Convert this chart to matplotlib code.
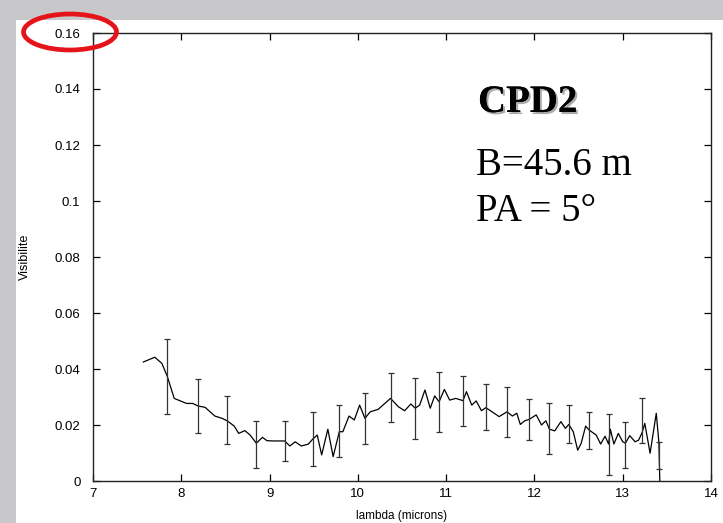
import matplotlib
matplotlib.use("Agg")
import matplotlib.pyplot as plt
import matplotlib.patches as mpatches
import matplotlib.patheffects as pe
from matplotlib.ticker import FuncFormatter

# ---- data ----
wave = [7.57, 7.70, 7.78, 7.84, 7.92, 8.06, 8.13, 8.19, 8.27, 8.38, 8.46, 8.52, 8.60,
        8.65, 8.72, 8.78, 8.85, 8.92, 8.97, 9.04, 9.17, 9.23, 9.29, 9.36, 9.44, 9.49,
        9.54, 9.59, 9.66, 9.72, 9.79, 9.83, 9.90, 9.96, 10.02, 10.08, 10.14, 10.23,
        10.37, 10.46, 10.53, 10.60, 10.65, 10.70, 10.76, 10.82, 10.87, 10.92, 10.98,
        11.04, 11.11, 11.19, 11.23, 11.29, 11.34, 11.40, 11.45, 11.52, 11.60, 11.69,
        11.75, 11.80, 11.84, 11.89, 11.94, 12.02, 12.08, 12.13, 12.17, 12.23, 12.30,
        12.35, 12.39, 12.44, 12.49, 12.53, 12.58, 12.62, 12.70, 12.75, 12.80, 12.84,
        12.86, 12.90, 12.95, 13.00, 13.03, 13.08, 13.14, 13.18, 13.22, 13.25, 13.31,
        13.38, 13.41, 13.42]
vis = [0.0425, 0.0442, 0.0420, 0.0375, 0.0295, 0.0277, 0.0277, 0.0268, 0.0263, 0.0232,
       0.0224, 0.0215, 0.0196, 0.0170, 0.0180, 0.0164, 0.0135, 0.0156, 0.0144, 0.0143,
       0.0143, 0.0125, 0.0140, 0.0125, 0.0132, 0.0150, 0.0164, 0.0093, 0.0185, 0.0087,
       0.0176, 0.0176, 0.0232, 0.0218, 0.0271, 0.0224, 0.0247, 0.0256, 0.0295, 0.0265,
       0.0251, 0.0275, 0.0260, 0.0271, 0.0325, 0.0260, 0.0304, 0.0283, 0.0327, 0.0289,
       0.0295, 0.0287, 0.0319, 0.0271, 0.0286, 0.0251, 0.0262, 0.0247, 0.0230, 0.0247,
       0.0232, 0.0242, 0.0202, 0.0215, 0.0220, 0.0236, 0.0200, 0.0215, 0.0185, 0.0179,
       0.0212, 0.0188, 0.0202, 0.0176, 0.0110, 0.0135, 0.0196, 0.0182, 0.0164, 0.0132,
       0.0160, 0.0132, 0.0185, 0.0132, 0.0170, 0.0140, 0.0135, 0.0162, 0.0140, 0.0146,
       0.0173, 0.0206, 0.0099, 0.0242, 0.0137, 0.0000]

err_x = [7.84, 8.19, 8.52, 8.85, 9.17, 9.49, 9.79, 10.08, 10.37, 10.65, 10.92,
         11.19, 11.45, 11.69, 11.94, 12.17, 12.39, 12.62, 12.84, 13.03, 13.22, 13.41]
err_y = [0.0372, 0.0268, 0.0217, 0.0131, 0.0143, 0.0150, 0.0178, 0.0223, 0.0298,
         0.0259, 0.0281, 0.0286, 0.0264, 0.0246, 0.0220, 0.0186, 0.0204, 0.0179,
         0.0130, 0.0130, 0.0216, 0.0090]
err_e = [0.0134, 0.0097, 0.0086, 0.0083, 0.0072, 0.0095, 0.0093, 0.0092, 0.0088,
         0.0110, 0.0107, 0.0088, 0.0082, 0.0088, 0.0074, 0.0091, 0.0067, 0.0066,
         0.0109, 0.0082, 0.0079, 0.0048]

x_ticks = [7, 8, 9, 10, 11, 12, 13, 14]
y_ticks = [0, 0.02, 0.04, 0.06, 0.08, 0.1, 0.12, 0.14, 0.16]

W, H = 723, 523
fig = plt.figure(figsize=(W / 100, H / 100), dpi=100)
fig.patch.set_facecolor("#c8c8ca")

# white panel behind everything
bg = mpatches.Rectangle((16 / W, 0), 1 - 16 / W, 1 - 20 / H,
                        transform=fig.transFigure, facecolor="white",
                        edgecolor="none", zorder=-10)
fig.add_artist(bg)

ax = fig.add_axes([93 / W, 1 - 481 / H, (711 - 93) / W, (481 - 33) / H])
ax.set_zorder(1)
ax.set_facecolor("white")

ax.plot(wave, vis, color="black", lw=0.9)
ax.errorbar(err_x, err_y, yerr=err_e, fmt="none", ecolor="#333333",
            elinewidth=0.9, capsize=2.5, capthick=0.9)

ax.set_xlim(7, 14)
ax.set_ylim(0, 0.16)
ax.set_xticks(x_ticks)
ax.set_yticks(y_ticks)
ax.yaxis.set_major_formatter(FuncFormatter(lambda v, p: "%g" % v))
ax.xaxis.set_major_formatter(FuncFormatter(lambda v, p: "%g" % v))
ax.tick_params(direction="in", length=5, width=0.9, top=True, right=True,
               labelsize=9.5, colors="black")
ax.tick_params(axis="x", pad=5)
ax.tick_params(axis="y", pad=9)
for lab in ax.get_xticklabels() + ax.get_yticklabels():
    lab.set_fontfamily("Liberation Sans")
for s in ax.spines.values():
    s.set_linewidth(1.0)
    s.set_color("#222222")

ax.set_xlabel("lambda (microns)", fontsize=8.5, family="Liberation Sans")
ax.set_ylabel("Visibilite", fontsize=9, family="Liberation Sans")
ax.xaxis.set_label_coords(0.5, (481 - 510) / 448)
ax.yaxis.set_label_coords((31 - 93) / 618, 0.5)

# annotation text
shadow = [pe.withSimplePatchShadow(offset=(1.5, -1.5), shadow_rgbFace="#888888", alpha=0.7),
          pe.Normal()]
fig.text(478 / W, 1 - 112 / H, "CPD2", fontsize=28, fontweight="bold",
         family="Liberation Serif", va="baseline", ha="left", path_effects=shadow,
         zorder=5)
fig.text(476 / W, 1 - 175 / H, "B=45.6 m", fontsize=28,
         family="Liberation Serif", va="baseline", ha="left", zorder=5)
fig.text(476 / W, 1 - 221 / H, "PA = 5°", fontsize=28,
         family="Liberation Serif", va="baseline", ha="left", zorder=5)

# red ellipse
ell = mpatches.Ellipse((70 / W, 1 - 32 / H), 93 / W, 36 / H,
                       transform=fig.transFigure, fill=False,
                       edgecolor="#e5141b", linewidth=3.4, zorder=10)
fig.add_artist(ell)

fig.savefig("out.png", dpi=100, facecolor=fig.get_facecolor())
